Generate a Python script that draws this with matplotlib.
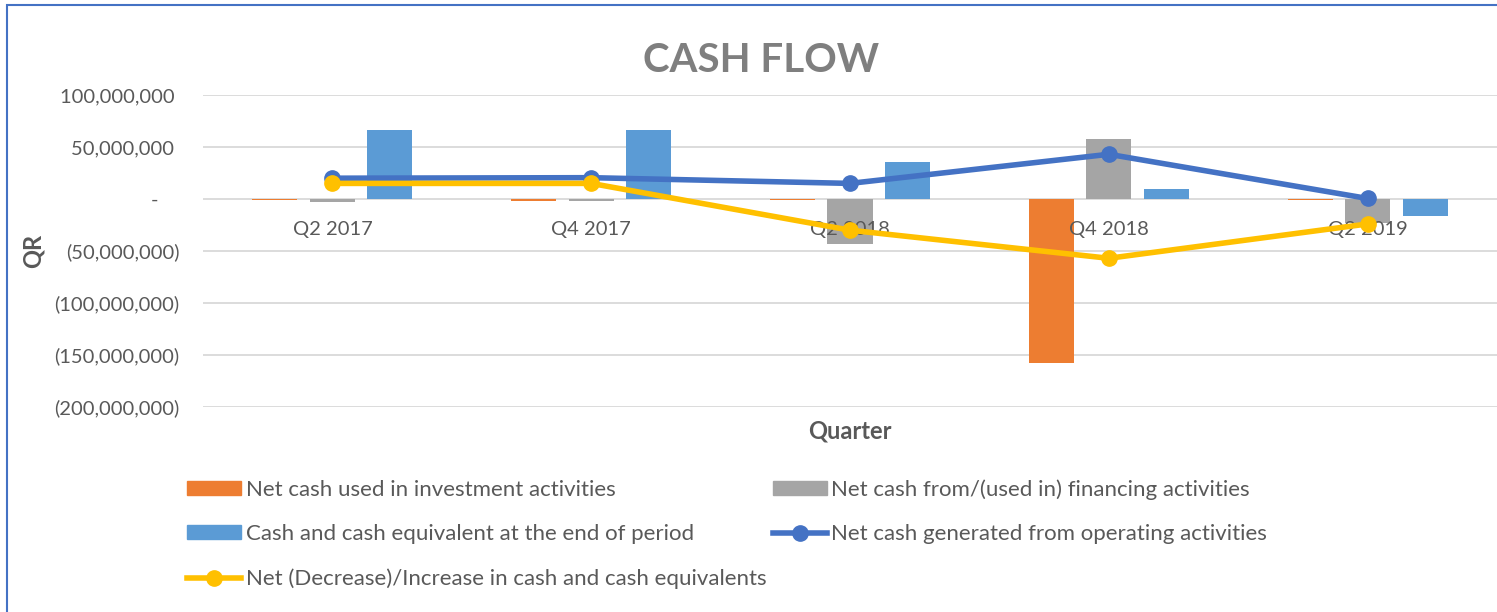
import matplotlib
matplotlib.use("Agg")
import matplotlib.pyplot as plt
from matplotlib.lines import Line2D
from matplotlib.patches import Patch, Rectangle
from matplotlib.ticker import FuncFormatter
import numpy as np

# --- データ ---
quarters = ['Q2 2017', 'Q4 2017', 'Q2 2018', 'Q4 2018', 'Q2 2019']
investment = [-0.8e6, -2e6, -1e6, -158e6, -0.6e6]
financing = [-3e6, -2e6, -43e6, 58e6, -23e6]
cash_end = [66e6, 66e6, 35.5e6, 9.5e6, -16.5e6]
operating = [20e6, 20.5e6, 15e6, 43e6, 0.5e6]
net_change = [15e6, 15e6, -30e6, -57e6, -24e6]

y_ticks = [100e6, 50e6, 0, -50e6, -100e6, -150e6, -200e6]

# --- 色 ---
C_ORANGE = '#ED7D31'
C_GRAY = '#A5A5A5'
C_BLUE_BAR = '#5B9BD5'
C_BLUE_LINE = '#4472C4'
C_YELLOW = '#FFC000'
C_TEXT = '#595959'

plt.rcParams['font.family'] = ['Lato', 'DejaVu Sans']

fig = plt.figure(figsize=(14.97, 6.12), dpi=100)
ax = fig.add_axes([203 / 1497, 1 - 407 / 612, 1 - 203 / 1497, (407 - 95) / 612])

x = np.arange(len(quarters))
off = 0.222
w = 0.174
ax.bar(x - off, investment, w, color=C_ORANGE, zorder=2)
ax.bar(x, financing, w, color=C_GRAY, zorder=2)
ax.bar(x + off, cash_end, w, color=C_BLUE_BAR, zorder=2)
ax.plot(x, operating, color=C_BLUE_LINE, lw=4, marker='o', ms=11, zorder=4)
ax.plot(x, net_change, color=C_YELLOW, lw=4, marker='o', ms=11, zorder=5)

ax.set_xlim(-0.5, len(quarters) - 0.5)
ax.set_ylim(-200e6, 100e6)
ax.set_yticks(y_ticks)


def fmt(v, pos):
    if v == 0:
        return '-    '
    if v < 0:
        return '({:,.0f})'.format(-v)
    return '{:,.0f} '.format(v)


ax.yaxis.set_major_formatter(FuncFormatter(fmt))
ax.tick_params(axis='y', length=0, pad=17, labelsize=14.5, labelcolor=C_TEXT)
ax.set_xticks([])
ax.grid(axis='y', color='#D9D9D9', lw=1.3, zorder=0)
ax.set_axisbelow(True)
for s in ax.spines.values():
    s.set_visible(False)

# カテゴリラベルはゼロ線の下に
for i, q in enumerate(quarters):
    ax.annotate(q, (i, 0), xytext=(0, -22), textcoords='offset points',
                ha='center', va='center', fontsize=14.5, color=C_TEXT, zorder=3)

fig.text(761 / 1497, 1 - 60 / 612, 'CASH FLOW', ha='center', va='center',
         fontsize=29, fontweight='bold', color='#7F7F7F')
fig.text(33 / 1497, 1 - 251 / 612, 'QR', rotation=90, ha='center', va='center',
         fontsize=17, fontweight='bold', color=C_TEXT)
fig.text(850 / 1497, 1 - 431 / 612, 'Quarter', ha='center', va='center',
         fontsize=17, fontweight='bold', color=C_TEXT)

# 凡例（列優先で並ぶので順番を入れ替え）
handles = [
    Patch(color=C_ORANGE),
    Patch(color=C_BLUE_BAR),
    Line2D([], [], color=C_YELLOW, lw=4, marker='o', ms=11),
    Patch(color=C_GRAY),
    Line2D([], [], color=C_BLUE_LINE, lw=4, marker='o', ms=11),
]
labels = [
    'Net cash used in investment activities',
    'Cash and cash equivalent at the end of period',
    'Net (Decrease)/Increase in cash and cash equivalents',
    'Net cash from/(used in) financing activities',
    'Net cash generated from operating activities',
]
leg = fig.legend(handles, labels, ncol=2, loc='upper left',
                 bbox_to_anchor=(187 / 1497, 1 - 479 / 612), frameon=False,
                 fontsize=16, handlelength=2.43, handleheight=0.6,
                 handletextpad=0.22, labelspacing=1.1, columnspacing=0.27,
                 borderaxespad=0, borderpad=0)
for t in leg.get_texts():
    t.set_color(C_TEXT)

# 外枠
fig.patches.append(Rectangle((7 / 1497, -0.1), 1.2, 1 - 5 / 612 + 0.1,
                             transform=fig.transFigure, fill=False,
                             edgecolor=C_BLUE_LINE, lw=1.5, zorder=10))

fig.savefig('out.png', dpi=100)
